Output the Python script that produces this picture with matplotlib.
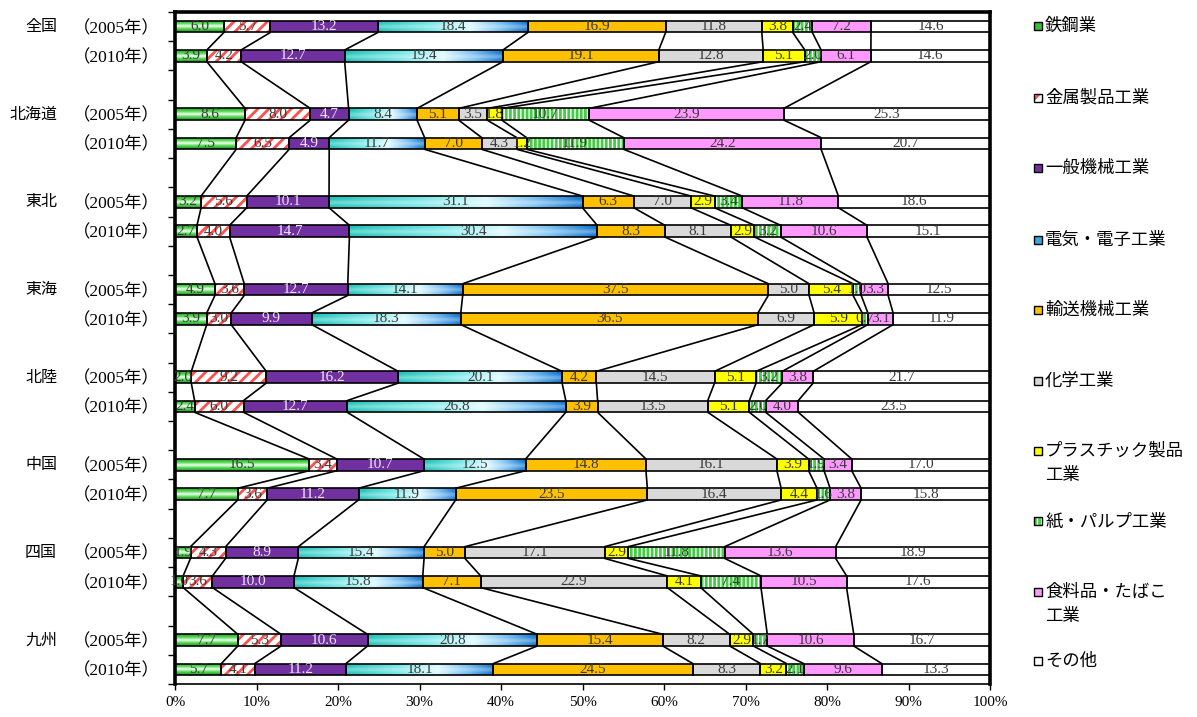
import numpy as np
import matplotlib
matplotlib.use("Agg")
import matplotlib.pyplot as plt
from matplotlib.patches import Rectangle
from matplotlib.transforms import blended_transform_factory

# ---- data -------------------------------------------------------------
regions = ["全国", "北海道", "東北", "東海", "北陸", "中国", "四国", "九州"]
years = ["（2005年）", "（2010年）"]

industries = ["鉄鋼業", "金属製品工業", "一般機械工業", "電気・電子工業",
              "輸送機械工業", "化学工業", "プラスチック製品\n工業",
              "紙・パルプ工業", "食料品・たばこ\n工業", "その他"]

# one value per bar: region order above, 2005 then 2010 for each region
steel = [6.0, 3.9, 8.6, 7.5, 3.2, 2.7, 4.9, 3.9, 2.0, 2.4, 16.5, 7.7, 1.9, 1.0, 7.7, 5.7]
metal = [5.7, 4.2, 8.0, 6.5, 5.6, 4.0, 3.6, 3.0, 9.2, 6.0, 3.4, 3.6, 4.3, 3.6, 5.3, 4.1]
machinery = [13.2, 12.7, 4.7, 4.9, 10.1, 14.7, 12.7, 9.9, 16.2, 12.7, 10.7, 11.2, 8.9, 10.0, 10.6, 11.2]
electric = [18.4, 19.4, 8.4, 11.7, 31.1, 30.4, 14.1, 18.3, 20.1, 26.8, 12.5, 11.9, 15.4, 15.8, 20.8, 18.1]
transport = [16.9, 19.1, 5.1, 7.0, 6.3, 8.3, 37.5, 36.5, 4.2, 3.9, 14.8, 23.5, 5.0, 7.1, 15.4, 24.5]
chemical = [11.8, 12.8, 3.5, 4.3, 7.0, 8.1, 5.0, 6.9, 14.5, 13.5, 16.1, 16.4, 17.1, 22.9, 8.2, 8.3]
plastic = [3.8, 5.1, 1.8, 1.2, 2.9, 2.9, 5.4, 5.9, 5.1, 5.1, 3.9, 4.4, 2.9, 4.1, 2.9, 3.2]
paper = [2.4, 2.0, 10.7, 11.9, 3.4, 3.2, 1.0, 0.7, 3.2, 2.0, 1.9, 1.6, 11.8, 7.4, 1.7, 2.1]
food = [7.2, 6.1, 23.9, 24.2, 11.8, 10.6, 3.3, 3.1, 3.8, 4.0, 3.4, 3.8, 13.6, 10.5, 10.6, 9.6]
other = [14.6, 14.6, 25.3, 20.7, 18.6, 15.1, 12.5, 11.9, 21.7, 23.5, 17.0, 15.8, 18.9, 17.6, 16.7, 13.3]

series = [steel, metal, machinery, electric, transport,
          chemical, plastic, paper, food, other]

# ---- styling -----------------------------------------------------------
plt.rcParams["hatch.linewidth"] = 2.0
SERIF = ["Liberation Serif", "Noto Sans CJK JP"]
CJK = ["Noto Sans CJK JP", "DejaVu Sans"]

face = ["#33c233", "white", "#7030A0", "#40b8d8", "#FFC000",
        "#D9D9D9", "#FFFF00", "white", "#FF99FF", "white"]
hatch = [None, "///", None, None, None, None, None, "||||", None, None]
hatch_col = ["none", "#ff5050", "none", "none", "none",
             "none", "none", "#44cc44", "none", "none"]
gradient = [True, False, False, True, False, False, False, False, False, False]
label_col = ["#3a3a3a", "#3a3a3a", "#eee6f6", "#3a3a3a", "#3a3a3a",
             "#3a3a3a", "#3a3a3a", "#3a3a3a", "#3a3a3a", "#3a3a3a"]


def steel_gradient(n=40):
    stops = [(0.0, (0.12, 0.66, 0.12)), (0.28, (0.35, 0.86, 0.35)),
             (0.5, (0.96, 1.0, 0.96)), (0.72, (0.35, 0.86, 0.35)),
             (1.0, (0.10, 0.58, 0.10))]
    t = np.linspace(0, 1, n)
    pos = [s[0] for s in stops]
    col = np.stack([np.interp(t, pos, [s[1][c] for s in stops]) for c in range(3)], -1)
    return col[:, None, :]


def electric_gradient(nx=200, ny=30):
    stops = [(0.0, (0.10, 0.76, 0.72)), (0.35, (0.45, 0.90, 0.90)),
             (0.62, (0.86, 0.98, 1.0)), (0.82, (0.45, 0.74, 0.94)),
             (1.0, (0.04, 0.44, 0.80))]
    tx = np.linspace(0, 1, nx)
    pos = [s[0] for s in stops]
    base = np.stack([np.interp(tx, pos, [s[1][c] for s in stops]) for c in range(3)], -1)
    ty = np.linspace(0, 1, ny)
    w = 0.35 * np.exp(-((ty - 0.55) / 0.22) ** 2)
    img = base[None, :, :] * (1 - w[:, None, None]) + w[:, None, None]
    return np.clip(img, 0, 1)


# ---- layout ------------------------------------------------------------
W, H = 1197, 717
fig = plt.figure(figsize=(W / 100, H / 100), dpi=100)
ax = fig.add_axes([175 / W, 1 - 684 / H, 815 / W, 672 / H])

n_bars = len(steel)
slots = np.array([3 * (i // 2) + (i % 2) for i in range(n_bars)])
bar_h = 0.4

vals = np.array(series, dtype=float)           # (10, 16)
widths = vals / vals.sum(axis=0) * 100.0       # 100 % stacked
lefts = np.vstack([np.zeros(n_bars), np.cumsum(widths, axis=0)[:-1]])
cum = np.cumsum(widths, axis=0)

for k in range(len(series)):
    fills = ax.barh(slots, widths[k], left=lefts[k], height=bar_h,
                    color=face[k], hatch=hatch[k], edgecolor=hatch_col[k],
                    linewidth=0, zorder=1.5)
    if gradient[k]:
        img = steel_gradient() if k == 0 else electric_gradient()
        for p in fills.patches:
            x0, y0 = p.get_x(), p.get_y()
            im = ax.imshow(img, extent=(x0, x0 + p.get_width(), y0 + bar_h, y0),
                           aspect="auto", interpolation="bilinear", zorder=1.6)
            im.set_clip_path(p)
    ax.barh(slots, widths[k], left=lefts[k], height=bar_h,
            facecolor="none", edgecolor="black", linewidth=1.2, zorder=2)
    for i in range(n_bars):
        ax.text(lefts[k][i] + widths[k][i] / 2, slots[i], f"{vals[k][i]:.1f}",
                ha="center", va="center", fontsize=11, family=SERIF,
                color=label_col[k], zorder=4)

# series lines joining the segment ends of consecutive bars
for i in range(n_bars - 1):
    for k in range(len(series)):
        ax.plot([cum[k][i], cum[k][i + 1]],
                [slots[i] + bar_h / 2, slots[i + 1] - bar_h / 2],
                color="black", linewidth=1.2, zorder=2.5, solid_capstyle="butt")

ax.set_xlim(0, 100)
ax.set_ylim(slots.max() + 0.5, -0.5)

ax.set_xticks(np.arange(0, 101, 10))
ax.set_xticklabels([f"{t}%" for t in range(0, 101, 10)], fontsize=11,
                   family=SERIF)
ax.tick_params(axis="x", length=4, width=1, direction="out", pad=5)

# year labels as tick labels, region names in their own column
ax.set_yticks(slots)
ax.set_yticklabels([years[i % 2] for i in range(n_bars)], fontsize=12.5,
                   family=SERIF)
ax.tick_params(axis="y", which="major", length=0, pad=11)
ax.set_yticks(np.arange(-0.5, slots.max() + 0.6, 1.0), minor=True)
ax.tick_params(axis="y", which="minor", length=5, width=1, direction="out")

name_tr = blended_transform_factory(fig.transFigure, ax.transData)
for g, name in enumerate(regions):
    ax.text(57 / W, slots[2 * g], name, transform=name_tr, ha="right",
            va="center", fontsize=11.5, family=CJK, color="black")

for side in ["top", "left", "right"]:
    ax.spines[side].set_linewidth(2.6)
ax.spines["bottom"].set_linewidth(1.2)

# ---- legend ------------------------------------------------------------
legend_y = [26, 98, 168, 240, 310, 381, 451, 521, 592, 661]
leg_face = ["#33c233", "white", "#7030A0", "#3aa8e0", "#FFC000",
            "#D9D9D9", "#FFFF00", "white", "#FF99FF", "white"]
for k, name in enumerate(industries):
    y = legend_y[k]
    sw = Rectangle((1034 / W, 1 - (y + 4) / H), 8 / W, 8 / H,
                   transform=fig.transFigure, facecolor=leg_face[k],
                   hatch=hatch[k], edgecolor=hatch_col[k], linewidth=0)
    fig.add_artist(sw)
    fig.add_artist(Rectangle((1034 / W, 1 - (y + 4) / H), 8 / W, 8 / H,
                             transform=fig.transFigure, facecolor="none",
                             edgecolor="black", linewidth=1.0))
    lines = name.split("\n")
    for j, line in enumerate(lines):
        fig.text(1045 / W, 1 - (y + 24 * j) / H, line, ha="left", va="center",
                 fontsize=12.5, family=CJK, color="black")

fig.savefig("out.png", dpi=100)
